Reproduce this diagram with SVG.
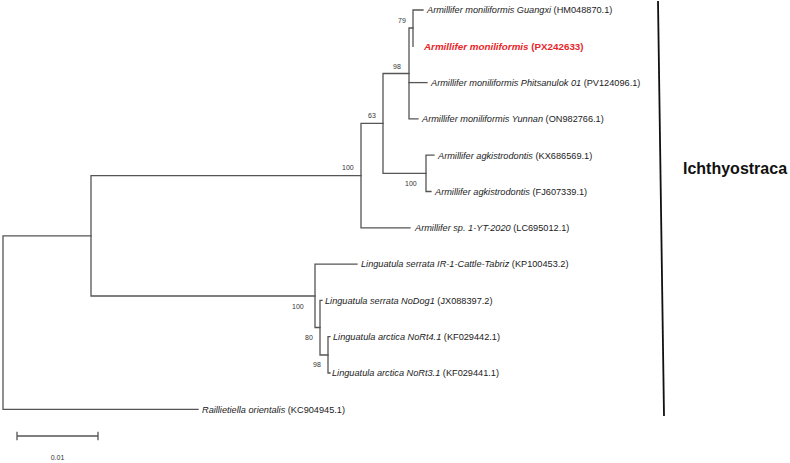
<svg xmlns="http://www.w3.org/2000/svg" width="790" height="463" viewBox="0 0 790 463">
<style>
.br{stroke:#555;stroke-width:1.3;fill:none;stroke-linecap:square}
.lb{font-family:"Liberation Sans",Arial,sans-serif;font-size:9.2px;fill:#222}
.lb .i{font-style:italic}
.red{font-family:"Liberation Sans",Arial,sans-serif;font-size:9.8px;font-weight:bold;fill:#e8262a}
.bs{font-family:"Liberation Sans",Arial,sans-serif;font-size:7px;fill:#333}
.cl{font-family:"Liberation Sans",Arial,sans-serif;font-size:16px;font-weight:bold;fill:#111}
</style>
<rect width="790" height="463" fill="#fff"/>
<g id="connectors">
<!-- root -->
<path class="br" d="M91,235.8 H3 V409.3 H198"/>
<!-- node X -->
<path class="br" d="M361,175.6 H91 V296 H315"/>
<!-- node 100 Armillifer -->
<path class="br" d="M383,123.4 H361 V227.8 H410"/>
<!-- node 63 -->
<path class="br" d="M409,73.5 H383 V173.4 H426"/>
<!-- node 98 -->
<path class="br" d="M413,28 H409 V118.9 H418"/>
<path class="br" d="M409,82.6 H427"/>
<!-- node 79 -->
<path class="br" d="M423,10 H413 V46.3"/>
<!-- agkistrodontis -->
<path class="br" d="M434,155.2 H426 V191.5 H431"/>
<!-- Linguatula -->
<path class="br" d="M357,264.1 H315 V327.5 H320"/>
<path class="br" d="M322,300.4 H320 V355 H328"/>
<path class="br" d="M330,336.7 H328 V373 H330"/>
<!-- scale bar -->
<path class="br" d="M17,436 H98 M17,432.5 V439.5 M98,432.5 V439.5"/>
<!-- clade bar -->
<path d="M658,1 L664,416" stroke="#111" stroke-width="1.8" fill="none"/>
</g>
<g id="n-guangxi"><text class="lb" x="427" y="13.3"><tspan class="i">Armillifer moniliformis Guangxi</tspan> (HM048870.1)</text></g>
<g id="n-px242633"><text class="red" x="424" y="49.6"><tspan font-style="italic">Armillifer moniliformis</tspan> (PX242633)</text></g>
<g id="n-phitsanulok"><text class="lb" x="431" y="85.9"><tspan class="i">Armillifer moniliformis Phitsanulok 01</tspan> (PV124096.1)</text></g>
<g id="n-yunnan"><text class="lb" x="422" y="122.2"><tspan class="i">Armillifer moniliformis Yunnan</tspan> (ON982766.1)</text></g>
<g id="n-kx686569"><text class="lb" x="438" y="158.5"><tspan class="i">Armillifer agkistrodontis</tspan> (KX686569.1)</text></g>
<g id="n-fj607339"><text class="lb" x="435" y="194.8"><tspan class="i">Armillifer agkistrodontis</tspan> (FJ607339.1)</text></g>
<g id="n-sp"><text class="lb" x="415" y="231.1"><tspan class="i">Armillifer sp. 1-YT-2020</tspan> (LC695012.1)</text></g>
<g id="n-ir1"><text class="lb" x="361" y="267.4"><tspan class="i">Linguatula serrata IR-1-Cattle-Tabriz</tspan> (KP100453.2)</text></g>
<g id="n-nodog1"><text class="lb" x="325" y="303.7"><tspan class="i">Linguatula serrata NoDog1</tspan> (JX088397.2)</text></g>
<g id="n-nort41"><text class="lb" x="333" y="340"><tspan class="i">Linguatula arctica NoRt4.1</tspan> (KF029442.1)</text></g>
<g id="n-nort31"><text class="lb" x="332" y="376.3"><tspan class="i">Linguatula arctica NoRt3.1</tspan> (KF029441.1)</text></g>
<g id="n-raillietiella"><text class="lb" x="202" y="412.6"><tspan class="i">Raillietiella orientalis</tspan> (KC904945.1)</text></g>
<g id="bootstrap">
<text class="bs" x="398" y="23">79</text>
<text class="bs" x="393" y="69">98</text>
<text class="bs" x="368" y="118">63</text>
<text class="bs" x="342" y="170">100</text>
<text class="bs" x="405" y="186">100</text>
<text class="bs" x="292" y="309">100</text>
<text class="bs" x="305" y="340">80</text>
<text class="bs" x="313" y="367">98</text>
</g>
<g id="scale"><text class="bs" x="57.5" y="460" text-anchor="middle">0.01</text></g>
<g id="clade"><text class="cl" x="683" y="174">Ichthyostraca</text></g>
</svg>
